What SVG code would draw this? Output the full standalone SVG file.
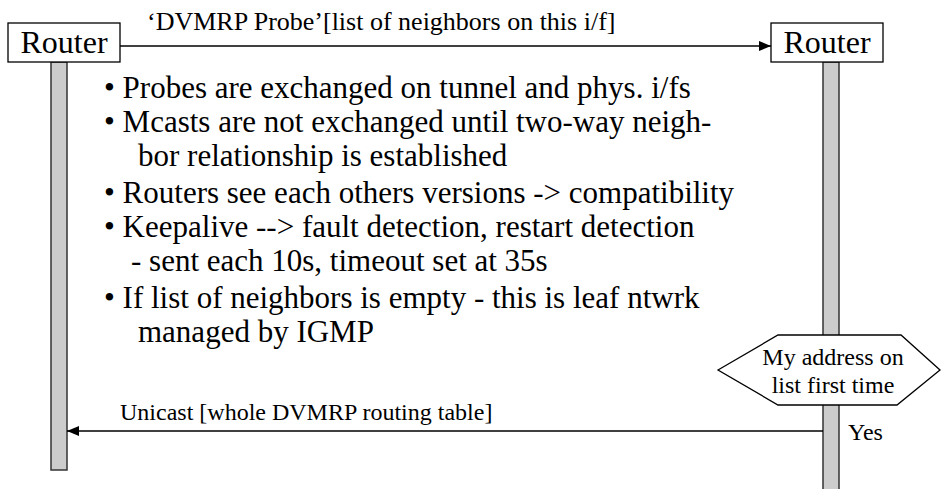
<svg xmlns="http://www.w3.org/2000/svg" width="942" height="489" viewBox="0 0 942 489">
<defs>
<style>
.box{fill:#fff;stroke:#000;stroke-width:1.3}
.life{fill:#cccccc;stroke:#333;stroke-width:1.5}
.ln{stroke:#000;stroke-width:1.3;fill:none}
text{font-family:"Liberation Serif",serif;fill:#000}
</style>
<marker id="ah" markerWidth="12" markerHeight="10" refX="12" refY="5" orient="auto" markerUnits="userSpaceOnUse">
<path d="M0,0 L12,5 L0,10 Z" fill="#000"/>
</marker>
</defs>
<rect width="942" height="489" fill="#fff"/>
<g id="router-left">
<rect class="life" x="51" y="62" width="16" height="408"/>
<rect class="box" x="8" y="23" width="112" height="39"/>
<text x="64" y="53" font-size="32" text-anchor="middle">Router</text>
</g>
<g id="router-right">
<rect class="life" x="823" y="62" width="16" height="430"/>
<rect class="box" x="771" y="23" width="112" height="39"/>
<text x="827" y="53" font-size="32" text-anchor="middle">Router</text>
</g>
<g id="decision">
<polygon class="box" points="718,370 778,335 901,335 940,370 897,405 778,405"/>
<text x="833" y="365" font-size="24" text-anchor="middle">My address on</text>
<text x="833" y="393" font-size="24" text-anchor="middle">list first time</text>
</g>
<g id="connectors">
<line class="ln" x1="120" y1="46" x2="771" y2="46" marker-end="url(#ah)"/>
<line class="ln" x1="823" y1="431" x2="67" y2="431" marker-end="url(#ah)"/>
</g>
<g id="labels">
<text x="147" y="30" font-size="26">‘DVMRP Probe’[list of neighbors on this i/f]</text>
<text x="120" y="420" font-size="24">Unicast [whole DVMRP routing table]</text>
<text x="848" y="440" font-size="24">Yes</text>
</g>
<g id="notes" font-size="31">
<text x="104" y="98">• Probes are exchanged on tunnel and phys. i/fs</text>
<text x="104" y="132">• Mcasts are not exchanged until two-way neigh-</text>
<text x="138" y="166">bor relationship is established</text>
<text x="104" y="203">• Routers see each others versions -&gt; compatibility</text>
<text x="104" y="237">• Keepalive --&gt; fault detection, restart detection</text>
<text x="131" y="271">- sent each 10s, timeout set at 35s</text>
<text x="104" y="308">• If list of neighbors is empty - this is leaf ntwrk</text>
<text x="138" y="342">managed by IGMP</text>
</g>
</svg>
